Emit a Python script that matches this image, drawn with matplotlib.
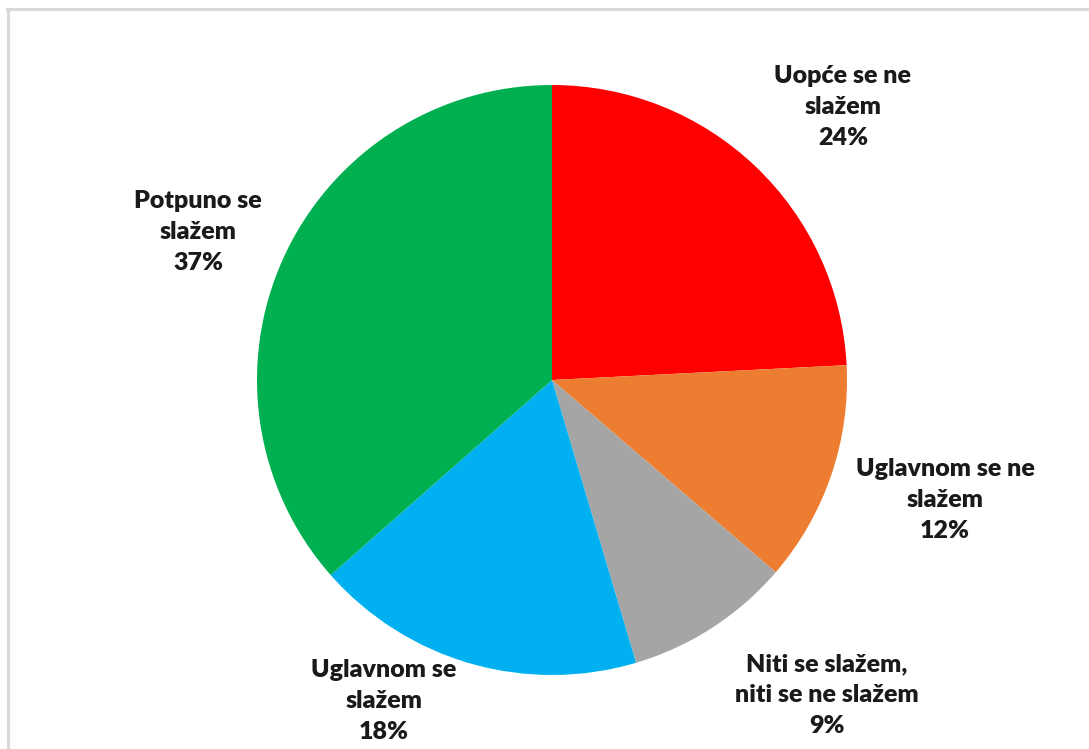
import matplotlib
matplotlib.use("Agg")
import matplotlib.pyplot as plt
from matplotlib.lines import Line2D

categories = ["Uopće se ne\nslažem", "Uglavnom se ne\nslažem",
              "Niti se slažem,\nniti se ne slažem", "Uglavnom se\nslažem",
              "Potpuno se\nslažem"]
values = [24.2, 12.1, 9.1, 18.1, 36.5]
pct_labels = ["24%", "12%", "9%", "18%", "37%"]
colors = ["#FF0000", "#ED7D31", "#A5A5A5", "#00B0F0", "#00B050"]

W, H = 1089, 749
fig = plt.figure(figsize=(W / 100, H / 100), dpi=100)
ax = fig.add_axes([0, 0, 1, 1])

cx, cy, r = 552, H - 380, 295
ax.pie(values, colors=colors, startangle=90, counterclock=False,
       center=(cx, cy), radius=r, frame=True,
       wedgeprops=dict(linewidth=0))
ax.set_xlim(0, W)
ax.set_ylim(0, H)
ax.axis("off")

# frame lines (top and left)
fig.add_artist(Line2D([7 / W, 1], [1 - 9 / H, 1 - 9 / H], color="#d9d9d9", lw=2.2,
                      transform=fig.transFigure))
fig.add_artist(Line2D([8 / W, 8 / W], [0, 1 - 9 / H], color="#d9d9d9", lw=2.2,
                      transform=fig.transFigure))

label_pos = [(843, 107), (945, 500), (827, 695), (384, 701), (198, 232)]
for cat, p, (x, y) in zip(categories, pct_labels, label_pos):
    ax.text(x, H - y, f"{cat}\n{p}", ha="center", va="center",
            fontsize=18, fontweight="heavy", family="Lato", color="#1a1a1a",
            linespacing=1.5)

fig.savefig("out.png", dpi=100)
